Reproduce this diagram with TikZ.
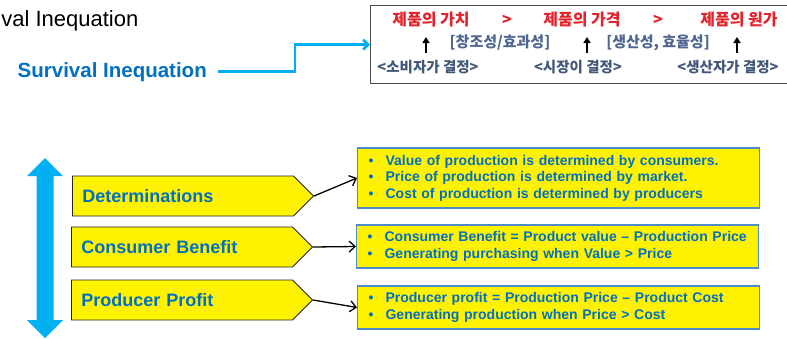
\documentclass[tikz,border=0pt]{standalone}
\usepackage{fontspec}
\setmainfont{Liberation Sans}
\newfontfamily\kofont{Noto Sans CJK KR}
\usetikzlibrary{arrows.meta,shapes.symbols,positioning}

\definecolor{skyblue}{HTML}{00B0F0}
\definecolor{textblue}{HTML}{0070C0}
\definecolor{ineqred}{HTML}{E3222B}
\definecolor{ineqgray}{HTML}{4E6690}
\definecolor{noteline}{HTML}{4F8ACB}

\tikzset{
  tag/.style={signal, signal to=east, signal pointer angle=90, draw=black!85,
    fill=yellow, line width=0.9pt, minimum height=40, minimum width=241,
    inner xsep=10, text width=201, align=left, anchor=west, text=textblue,
    font=\bfseries\fontsize{18}{21}\selectfont},
  note/.style={draw=noteline, fill=yellow, line width=1.2pt, anchor=west,
    text width=380, inner xsep=11, align=left, text=textblue,
    font=\bfseries\fontsize{14}{16.5}\selectfont},
  link/.style={-{Straight Barb[length=6pt,width=11pt]}, line width=1.3pt},
  valrow/.style={text=ineqred, font=\kofont\bfseries\fontsize{16}{18}\selectfont},
  whyrow/.style={text=ineqgray, font=\kofont\bfseries\fontsize{15}{17}\selectfont},
  whorow/.style={text=ineqgray!85!black, font=\kofont\bfseries\fontsize{14.5}{17}\selectfont},
}
\newcommand{\bul}{\makebox[17pt][l]{\textbullet}}

\begin{document}
\begin{tikzpicture}[x=1pt,y=-1pt]
  \useasboundingbox (0,0) rectangle (787,338);

  % heading and the inequality box
  \node[anchor=base east, inner sep=0, font=\fontsize{22}{26}\selectfont] (title) at (138.5,26) {Survival Inequation};
  \node[anchor=base east, inner xsep=11, text=textblue, font=\bfseries\fontsize{20.5}{24}\selectfont] (survival) at (218,77) {Survival Inequation};
  \node[draw=black!70, fill=white, line width=1.2pt, minimum width=420, minimum height=78, anchor=north west] (ineq) at (370,5) {};
  \coordinate (bend) at (295,0);
  \draw[skyblue, line width=2.6pt, -{Straight Barb[length=5pt,width=10pt]}] (survival.east) -- (survival.east -| bend) |- (ineq.west);

  \foreach \x/\t [count=\i] in {431/제품의 가치,507/>,582/제품의 가격,658/>,739/제품의 원가}
    \node[valrow] (val\i) at (\x,20) {\t};
  \foreach \x/\t [count=\i] in {500/{[창조성/효과성]},658/{[생산성, 효율성]}}
    \node[whyrow] (why\i) at (\x,43) {\t};
  \foreach \x/\t [count=\i] in {428/<소비자가 결정>,578/<시장이 결정>,728/<생산자가 결정>}
    \node[whorow] (who\i) at (\x,67) {\t};
  \foreach \x in {426,587,737}
    \draw[line width=1.8pt, -{Triangle[length=6pt,width=7pt]}] (\x,53) -- (\x,37);

  % up/down arrow on the left
  \fill[skyblue] (45,158) -- (63,176) -- (53.5,176) -- (53.5,320) -- (63,320) -- (45,338)
    -- (27,320) -- (36.5,320) -- (36.5,176) -- (27,176) -- cycle;

  % the three tags and their notes
  \node[tag] (det) at (72,196) {Determinations};
  \node[tag] (benefit) at (71,247) {Consumer Benefit};
  \node[tag] (profit) at (71,300) {Producer Profit};

  \node[note, minimum height=60] (detnote) at (357,178)
    {\bul Value of production is determined by consumers.\\
     \bul Price of production is determined by market.\\
     \bul Cost of production is determined by producers};
  \node[note, minimum height=43] (benefitnote) at (356,246.5)
    {\bul Consumer Benefit = Product value -- Production Price\\
     \bul Generating purchasing when Value > Price};
  \node[note, minimum height=43] (profitnote) at (357,307.5)
    {\bul Producer profit = Production Price -- Product Cost\\
     \bul Generating production when Price > Cost};

  \draw[link] (det.east) -- (detnote.west);
  \draw[link] (benefit.east) -- (benefitnote.west);
  \draw[link] (profit.east) -- (profitnote.west);
\end{tikzpicture}
\end{document}
